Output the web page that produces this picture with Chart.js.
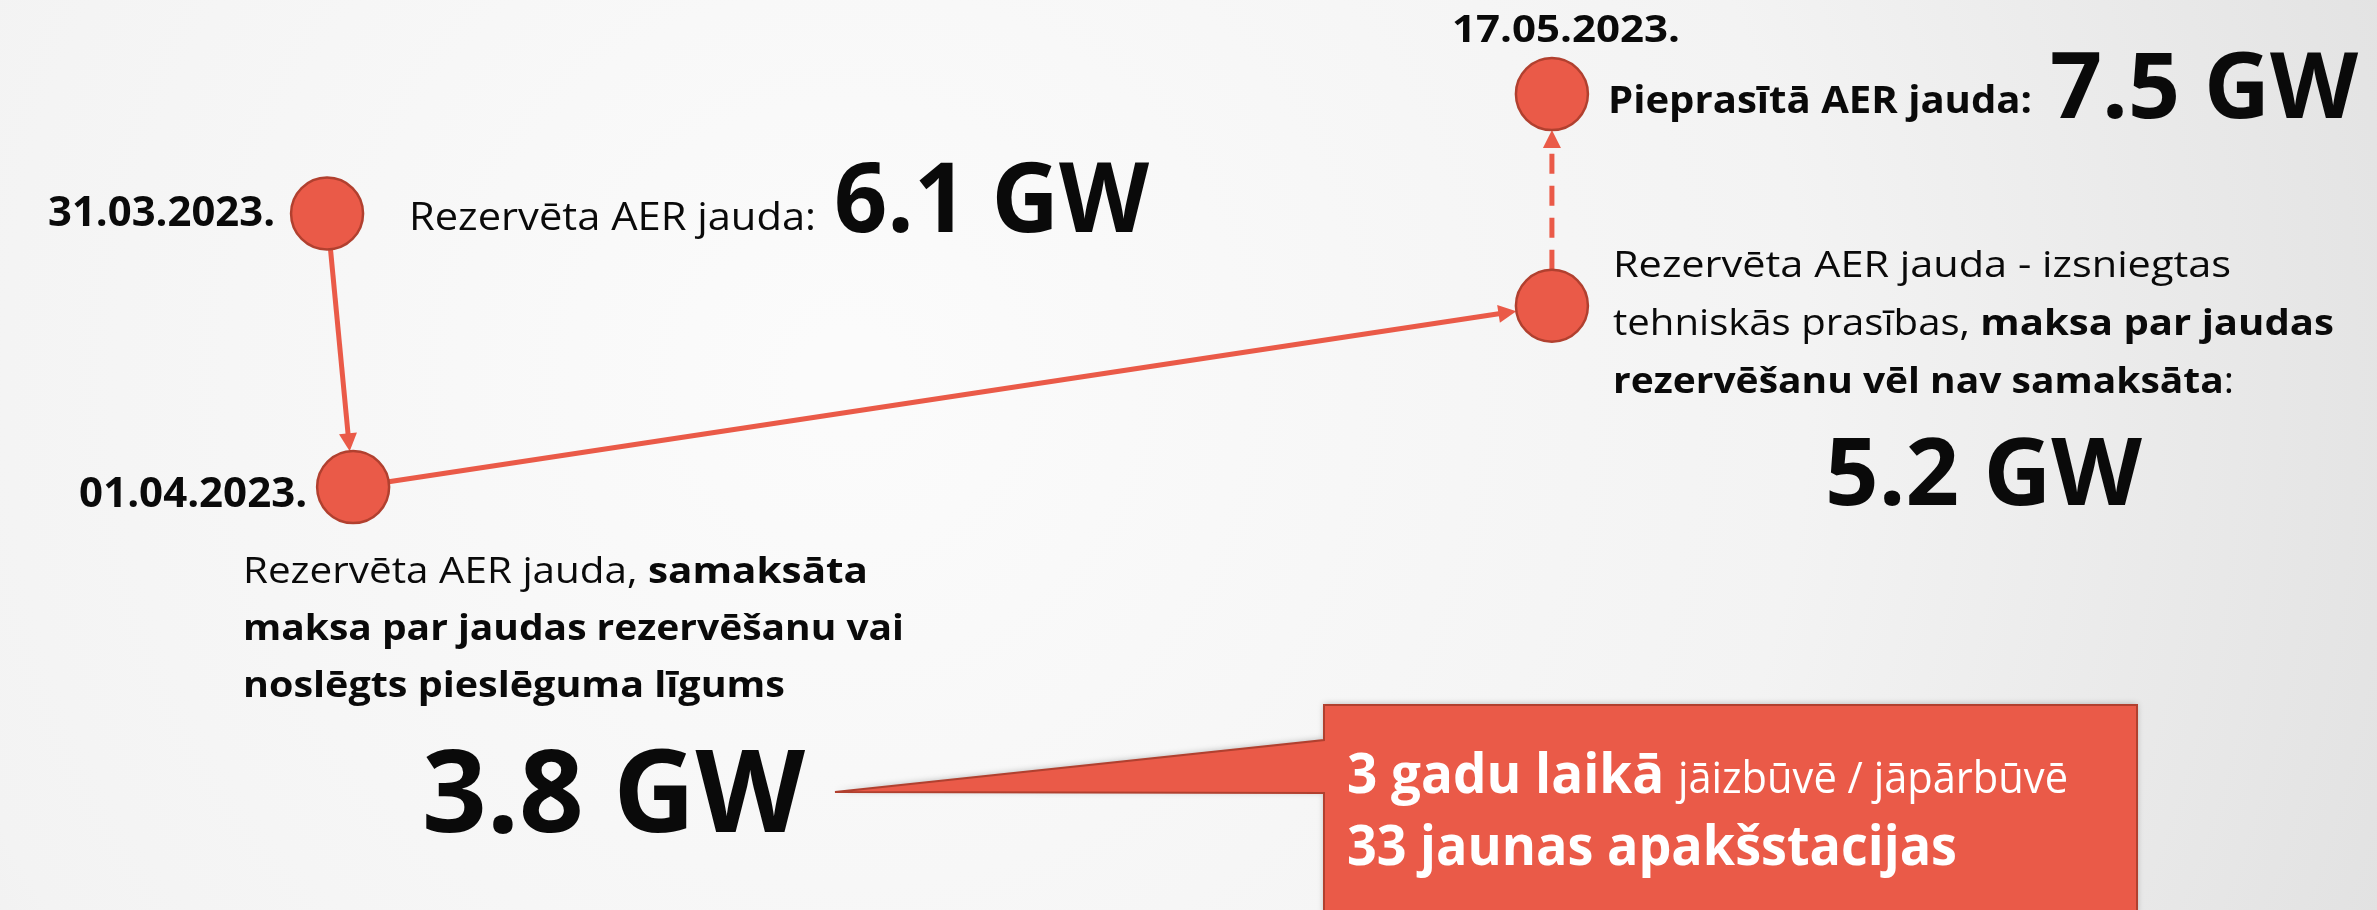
<!DOCTYPE html>
<html>
<head>
<meta charset="utf-8">
<script src="https://cdn.jsdelivr.net/npm/chart.js@4.4.0/dist/chart.umd.min.js"></script>
<style>
  html, body { margin: 0; padding: 0; background: #f4f4f4; overflow: hidden; }
  #wrap { width: 2377px; height: 910px; }
</style>
</head>
<body>
<div id="wrap"><canvas id="aerCtx" width="2377" height="910"></canvas></div>
<script>
// stages of the AER capacity story
const stageDates = ['31.03.2023.', '01.04.2023.', '', '17.05.2023.'];
const daysFromStart = [0, 1, 47, 47];
const capacityGW = [6.1, 3.8, 5.2, 7.5];
const callout = { years: 3, substations: 33 };

const RED = '#ea5a48';
const RED_DARK = '#b1402f';
const FONT = "'Open Sans', 'Liberation Sans', sans-serif";

function gw(i) {
    return capacityGW[i].toFixed(1) + ' GW';
}

/// draws a line of mixed regular / bold text squeezed to a given width
function drawRich(ctx, parts, x, y, width, color) {
    let total = 0;
    parts.forEach(p => {
        ctx.font = (p.bold ? '700 ' : '400 ') + p.size + 'px ' + FONT;
        total += ctx.measureText(p.t).width;
    });
    const sx = width / total;
    ctx.save();
    ctx.translate(x, y);
    ctx.scale(sx, 1);
    ctx.fillStyle = color || '#0a0a0a';
    ctx.textBaseline = 'alphabetic';
    ctx.textAlign = 'left';
    let cx = 0;
    parts.forEach(p => {
        ctx.font = (p.bold ? '700 ' : '400 ') + p.size + 'px ' + FONT;
        ctx.fillText(p.t, cx, 0);
        cx += ctx.measureText(p.t).width;
    });
    ctx.restore();
}

function arrow(ctx, x1, y1, x2, y2, dash) {
    const ang = Math.atan2(y2 - y1, x2 - x1);
    const head = 18;
    ctx.save();
    ctx.strokeStyle = RED;
    ctx.fillStyle = RED;
    ctx.lineWidth = 5;
    ctx.setLineDash(dash || []);
    ctx.beginPath();
    ctx.moveTo(x1, y1);
    ctx.lineTo(x2 - Math.cos(ang) * head * 0.8, y2 - Math.sin(ang) * head * 0.8);
    ctx.stroke();
    ctx.setLineDash([]);
    ctx.beginPath();
    ctx.moveTo(x2, y2);
    ctx.lineTo(x2 - Math.cos(ang) * head + Math.sin(ang) * 9, y2 - Math.sin(ang) * head - Math.cos(ang) * 9);
    ctx.lineTo(x2 - Math.cos(ang) * head - Math.sin(ang) * 9, y2 - Math.sin(ang) * head + Math.cos(ang) * 9);
    ctx.closePath();
    ctx.fill();
    ctx.restore();
}

const NODE_R = 36;

const backdrop = {
    id: 'backdrop',
    beforeDraw(chart) {
        const ctx = chart.ctx;
        const g = ctx.createRadialGradient(850, 380, 50, 850, 380, 1700);
        g.addColorStop(0, '#fbfbfb');
        g.addColorStop(0.55, '#f3f3f3');
        g.addColorStop(1, '#e0e0e0');
        ctx.save();
        ctx.fillStyle = g;
        ctx.fillRect(0, 0, chart.width, chart.height);
        ctx.restore();
    },
    beforeDatasetsDraw(chart) {
        const ctx = chart.ctx;
        const pts = chart.getDatasetMeta(0).data;
        const p = pts.map(e => ({ x: e.x, y: e.y }));

        // 31.03 -> 01.04
        let a = Math.atan2(p[1].y - p[0].y, p[1].x - p[0].x);
        arrow(ctx, p[0].x + Math.cos(a) * NODE_R, p[0].y + Math.sin(a) * NODE_R,
            p[1].x - Math.cos(a) * NODE_R, p[1].y - Math.sin(a) * NODE_R);
        // 01.04 -> 17.05
        a = Math.atan2(p[2].y - p[1].y, p[2].x - p[1].x);
        arrow(ctx, p[1].x + Math.cos(a) * NODE_R, p[1].y + Math.sin(a) * NODE_R,
            p[2].x - Math.cos(a) * NODE_R, p[2].y - Math.sin(a) * NODE_R);
        // reserved -> requested (dashed)
        arrow(ctx, p[2].x, p[2].y - NODE_R, p[3].x, p[3].y + NODE_R, [20, 12]);

        // callout box
        ctx.save();
        ctx.shadowColor = 'rgba(0,0,0,0.25)';
        ctx.shadowBlur = 6;
        ctx.shadowOffsetY = -1;
        ctx.beginPath();
        ctx.moveTo(1324, 705);
        ctx.lineTo(2137, 705);
        ctx.lineTo(2137, 915);
        ctx.lineTo(1324, 915);
        ctx.lineTo(1324, 793);
        ctx.lineTo(835, 792);
        ctx.lineTo(1324, 740);
        ctx.closePath();
        ctx.fillStyle = RED;
        ctx.fill();
        ctx.shadowColor = 'transparent';
        ctx.lineWidth = 2;
        ctx.strokeStyle = RED_DARK;
        ctx.stroke();
        ctx.restore();
    },
    afterDatasetsDraw(chart) {
        const ctx = chart.ctx;
        const pts = chart.getDatasetMeta(0).data;

        // dates next to the nodes
        drawRich(ctx, [{ t: stageDates[0], bold: true, size: 42 }], pts[0].x - NODE_R - 16 - 227, pts[0].y + 12, 227);
        drawRich(ctx, [{ t: stageDates[1], bold: true, size: 42 }], pts[1].x - NODE_R - 10 - 228, pts[1].y + 20, 228);
        drawRich(ctx, [{ t: stageDates[3], bold: true, size: 38 }], pts[3].x - 100, pts[3].y - 52, 228);

        // 31.03 reserved capacity
        drawRich(ctx, [{ t: 'Rezervēta AER jauda:', size: 39 }], 409, 230, 407);
        drawRich(ctx, [{ t: gw(0), bold: true, size: 97 }], 834, 232, 315);

        // 01.04 paid / contracted
        drawRich(ctx, [{ t: 'Rezervēta AER jauda, ', size: 36 }, { t: 'samaksāta', bold: true, size: 36 }], 243, 583, 625);
        drawRich(ctx, [{ t: 'maksa par jaudas rezervēšanu vai', bold: true, size: 36 }], 243, 640, 661);
        drawRich(ctx, [{ t: 'noslēgts pieslēguma līgums', bold: true, size: 36 }], 243, 697, 542);
        drawRich(ctx, [{ t: gw(1), bold: true, size: 115 }], 422, 832, 383);

        // 17.05 technical requirements issued
        drawRich(ctx, [{ t: 'Rezervēta AER jauda - izsniegtas', size: 36 }], 1613, 277, 618);
        drawRich(ctx, [{ t: 'tehniskās prasības, ', size: 36 }, { t: 'maksa par jaudas', bold: true, size: 36 }], 1613, 335, 721);
        drawRich(ctx, [{ t: 'rezervēšanu vēl nav samaksāta', bold: true, size: 36 }, { t: ':', size: 36 }], 1613, 393, 621);
        drawRich(ctx, [{ t: gw(2), bold: true, size: 94 }], 1825, 505, 317);

        // 17.05 requested
        drawRich(ctx, [{ t: 'Pieprasītā AER jauda:', bold: true, size: 38 }], 1608, 113, 424);
        drawRich(ctx, [{ t: gw(3), bold: true, size: 91 }], 2050, 118, 308);

        // callout text
        drawRich(ctx, [{ t: callout.years + ' gadu laikā ', bold: true, size: 56 }, { t: 'jāizbūvē / jāpārbūvē', size: 44 }], 1347, 793, 721, '#ffffff');
        drawRich(ctx, [{ t: callout.substations + ' jaunas apakšstacijas', bold: true, size: 56 }], 1347, 865, 610, '#ffffff');
    }
};

const aerCtx = document.getElementById('aerCtx');

var aerChart = new Chart(aerCtx, {
    type: 'scatter',
    data: {
        labels: stageDates,
        datasets: [{
            label: 'AER jauda',
            data: daysFromStart.map((d, i) => ({ x: d, y: capacityGW[i] })),
            pointRadius: NODE_R,
            pointHoverRadius: NODE_R,
            pointBackgroundColor: RED,
            pointBorderColor: RED_DARK,
            pointBorderWidth: 2.5,
            showLine: false,
            clip: false
        }]
    },
    options: {
        responsive: false,
        animation: false,
        devicePixelRatio: 1,
        events: [],
        layout: { padding: 0, autoPadding: false },
        plugins: {
            legend: { display: false },
            tooltip: { enabled: false }
        },
        scales: {
            x: { type: 'linear', display: false, bounds: 'data', min: -12.55, max: 78.66 },
            y: { type: 'logarithmic', display: false, bounds: 'data', min: 1.828, max: 8.826 }
        }
    },
    plugins: [backdrop]
});
</script>
</body>
</html>
